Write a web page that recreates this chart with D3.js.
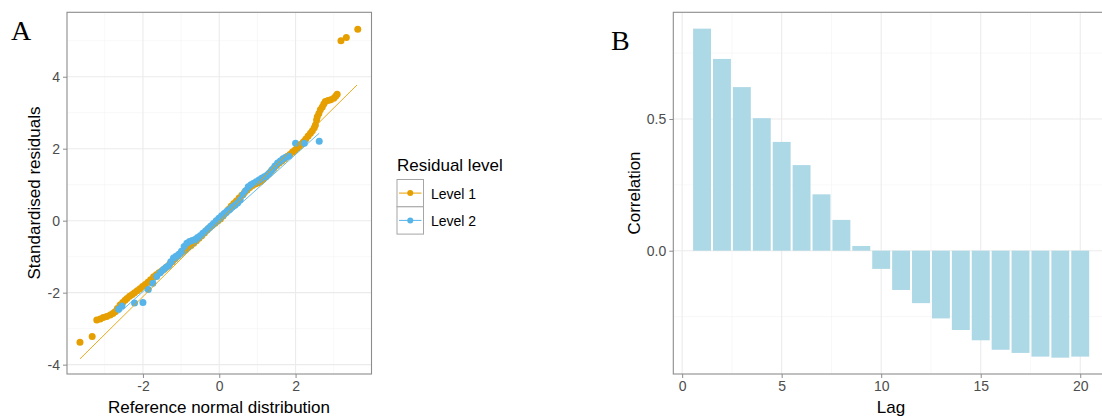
<!DOCTYPE html>
<html>
<head>
<meta charset="utf-8">
<script src="https://cdn.jsdelivr.net/npm/d3@7"></script>
<style>
  body { margin: 0; background: #fff; }
  svg { display: block; font-family: "Liberation Sans", Arial, sans-serif; }
</style>
</head>
<body>
<div id="chart"></div>
<script>
// --- panel A: QQ plot of standardised residuals ---
const level1X = [-3.65,-3.33,-3.21,-3.12,-3.04,-2.95,-2.86,-2.79,-2.73,-2.67,-2.60,-2.53,-2.47,-2.42,-2.35,-2.28,-2.22,-2.15,-2.08,-2.01,
  -1.94,-1.87,-1.80,-1.72,-1.65,-1.58,-1.51,-1.44,-1.37,-1.30,-1.23,-1.16,-1.09,-1.02,-0.95,-0.88,-0.81,-0.74,-0.67,-0.60,
  -0.53,-0.46,-0.39,-0.32,-0.25,-0.18,-0.11,-0.04,0.03,0.10,0.17,0.24,0.31,0.38,0.45,0.52,0.59,0.66,0.73,0.80,
  0.87,0.94,1.01,1.08,1.15,1.22,1.29,1.36,1.43,1.50,1.57,1.64,1.71,1.78,1.85,1.92,1.98,2.04,2.10,2.16,
  2.21,2.27,2.33,2.39,2.44,2.49,2.52,2.55,2.57,2.61,2.65,2.70,2.74,2.78,2.85,2.92,3.00,3.05,3.09,3.19,3.33,3.63];
const level1Y = [-3.38,-3.22,-2.76,-2.73,-2.69,-2.66,-2.62,-2.58,-2.53,-2.44,-2.34,-2.27,-2.21,-2.16,-2.10,-2.05,-2.00,-1.95,-1.89,-1.83,
  -1.77,-1.71,-1.64,-1.56,-1.50,-1.45,-1.40,-1.34,-1.28,-1.21,-1.14,-1.06,-0.98,-0.91,-0.85,-0.80,-0.74,-0.69,-0.63,-0.56,
  -0.49,-0.42,-0.34,-0.26,-0.19,-0.13,-0.07,-0.01,0.05,0.13,0.22,0.31,0.40,0.48,0.55,0.63,0.71,0.78,0.85,0.92,
  0.98,1.02,1.05,1.09,1.15,1.22,1.30,1.38,1.46,1.53,1.60,1.66,1.72,1.78,1.84,1.91,1.96,2.01,2.07,2.13,
  2.19,2.27,2.35,2.43,2.50,2.58,2.66,2.80,2.89,2.98,3.08,3.16,3.24,3.31,3.34,3.36,3.40,3.46,3.51,5.00,5.09,5.32];

const level2X = [-2.64,-2.55,-2.22,-2.00,-1.86,-1.74,-1.64,-1.55,-1.47,-1.40,-1.33,-1.27,-1.20,-1.13,-1.06,-0.99,-0.92,-0.85,-0.78,-0.71,
  -0.64,-0.57,-0.50,-0.43,-0.36,-0.29,-0.22,-0.15,-0.08,-0.01,0.06,0.13,0.20,0.27,0.34,0.41,0.48,0.55,0.62,0.69,
  0.76,0.83,0.90,0.97,1.04,1.11,1.18,1.25,1.32,1.39,1.46,1.53,1.60,1.67,1.74,1.82,2.00,2.23,2.62];
const level2Y = [-2.46,-2.37,-2.29,-2.27,-1.91,-1.74,-1.55,-1.45,-1.36,-1.30,-1.25,-1.14,-1.04,-0.99,-0.93,-0.85,-0.72,-0.63,-0.58,-0.55,
  -0.52,-0.47,-0.42,-0.35,-0.29,-0.22,-0.15,-0.08,0.00,0.07,0.14,0.20,0.26,0.31,0.38,0.43,0.49,0.58,0.72,0.83,
  0.94,1.00,1.04,1.08,1.13,1.18,1.22,1.26,1.33,1.42,1.52,1.60,1.66,1.72,1.76,1.80,2.15,2.15,2.21];

// qq reference lines (end points)
const line1X = [-3.65, 3.61], line1Y = [-3.84, 3.77];
const line2X = [-2.64, 2.62], line2Y = [-2.58, 2.43];

const levelNames = ['Level 1', 'Level 2'];
const levelColors = ['#E69F00', '#56B4E9'];

// --- panel B: autocorrelation ---
const lags = d3.range(1, 21);
const correlation = [0.843, 0.728, 0.621, 0.503, 0.413, 0.325, 0.214, 0.117, 0.018, -0.069,
  -0.149, -0.199, -0.257, -0.301, -0.340, -0.376, -0.388, -0.402, -0.406, -0.402];

const W = 1102, H = 419;
const svg = d3.select('#chart').append('svg').attr('width', W).attr('height', H);

const gridMajor = '#ebebeb', gridMinor = '#f4f4f4', border = '#8c8c8c', tickCol = '#4d4d4d';

function panel(x, y, xMajor, xMinor, yMajor, yMinor, xFmt, yFmt) {
    const g = svg.append('g');
    const [x0, x1] = x.range(), [y0, y1] = y.range();
    g.selectAll('.vminor').data(xMinor).join('line')
        .attr('x1', d => x(d)).attr('x2', d => x(d)).attr('y1', y0).attr('y2', y1)
        .attr('stroke', gridMinor).attr('stroke-width', 0.6);
    g.selectAll('.hminor').data(yMinor).join('line')
        .attr('y1', d => y(d)).attr('y2', d => y(d)).attr('x1', x0).attr('x2', x1)
        .attr('stroke', gridMinor).attr('stroke-width', 0.6);
    g.selectAll('.vmajor').data(xMajor).join('line')
        .attr('x1', d => x(d)).attr('x2', d => x(d)).attr('y1', y0).attr('y2', y1)
        .attr('stroke', gridMajor).attr('stroke-width', 1.1);
    g.selectAll('.hmajor').data(yMajor).join('line')
        .attr('y1', d => y(d)).attr('y2', d => y(d)).attr('x1', x0).attr('x2', x1)
        .attr('stroke', gridMajor).attr('stroke-width', 1.1);

    const xa = svg.append('g').attr('transform', `translate(0,${y0})`)
        .call(d3.axisBottom(x).tickValues(xMajor).tickSize(4).tickPadding(3).tickFormat(xFmt));
    const ya = svg.append('g').attr('transform', `translate(${x0},0)`)
        .call(d3.axisLeft(y).tickValues(yMajor).tickSize(4).tickPadding(3).tickFormat(yFmt));
    [xa, ya].forEach(a => {
        a.select('.domain').remove();
        a.selectAll('line').attr('stroke', border);
        a.selectAll('text').attr('fill', tickCol).attr('font-size', 14)
            .attr('font-family', '"Liberation Sans", Arial, sans-serif');
    });
    return g;
}

function frame(x, y) {
    const [x0, x1] = x.range(), [y0, y1] = y.range();
    svg.append('rect').attr('x', x0).attr('y', y1).attr('width', x1 - x0).attr('height', y0 - y1)
        .attr('fill', 'none').attr('stroke', border).attr('stroke-width', 1.1);
}

// plain hyphen for negatives, like the figure
const minusFmt = d => (d < 0 ? '-' + Math.abs(d) : String(d));

// ---------- Panel A ----------
const xA = d3.scaleLinear().domain([-3.99, 3.99]).range([67, 371.5]);
const yA = d3.scaleLinear().domain([-4.26, 5.79]).range([374, 12.3]);
const pA = panel(xA, yA, [-2, 0, 2], [-3, -1, 1, 3], [-4, -2, 0, 2, 4], [-3, -1, 1, 3, 5], minusFmt, minusFmt);

const pts = [
    level1X.map((v, i) => ({ x: v, y: level1Y[i], k: 0 })),
    level2X.map((v, i) => ({ x: v, y: level2Y[i], k: 1 }))
];
pts.forEach(set => {
    pA.append('g').selectAll('circle').data(set).join('circle')
        .attr('cx', d => xA(d.x)).attr('cy', d => yA(d.y)).attr('r', 3.5)
        .attr('fill', d => levelColors[d.k]);
});
const lineGen = d3.line().x(d => xA(d[0])).y(d => yA(d[1]));
pA.append('path').datum(line1X.map((v, i) => [v, line1Y[i]])).attr('d', lineGen)
    .attr('stroke', levelColors[0]).attr('stroke-width', 0.9).attr('fill', 'none');
pA.append('path').datum(line2X.map((v, i) => [v, line2Y[i]])).attr('d', lineGen)
    .attr('stroke', levelColors[1]).attr('stroke-width', 0.9).attr('fill', 'none');
frame(xA, yA);

svg.append('text').attr('x', 219).attr('y', 413).attr('text-anchor', 'middle')
    .attr('font-size', 17).attr('fill', '#000').text('Reference normal distribution');
svg.append('text').attr('transform', 'translate(40,193) rotate(-90)').attr('text-anchor', 'middle')
    .attr('font-size', 17).attr('fill', '#000').text('Standardised residuals');
svg.append('text').attr('x', 11).attr('y', 40).attr('font-family', '"Liberation Serif", "Times New Roman", serif')
    .attr('font-size', 28).text('A');

// legend
const lg = svg.append('g').attr('transform', 'translate(397,0)');
lg.append('text').attr('x', 0).attr('y', 170.5).attr('font-size', 17).text('Residual level');
levelNames.forEach((name, i) => {
    const top = 179.5 + i * 27.3;
    lg.append('rect').attr('x', 0).attr('y', top).attr('width', 26.5).attr('height', 27.3)
        .attr('fill', '#fff').attr('stroke', '#a6a6a6').attr('stroke-width', 1);
    lg.append('line').attr('x1', 2).attr('x2', 24.5).attr('y1', top + 13.6).attr('y2', top + 13.6)
        .attr('stroke', levelColors[i]).attr('stroke-width', 1);
    lg.append('circle').attr('cx', 13.25).attr('cy', top + 13.6).attr('r', 3)
        .attr('fill', levelColors[i]);
    lg.append('text').attr('x', 34).attr('y', top + 19.5).attr('font-size', 14).text(name);
});

// ---------- Panel B ----------
const xB = d3.scaleLinear().domain([-0.445, 21.445]).range([673.3, 1109]);
const yB = d3.scaleLinear().domain([-0.468, 0.905]).range([374, 12.3]);
const pB = panel(xB, yB, [0, 5, 10, 15, 20], [2.5, 7.5, 12.5, 17.5], [0, 0.5], [-0.25, 0.25, 0.75],
    d3.format('d'), d3.format('.1f'));
pB.append('g').selectAll('rect').data(lags).join('rect')
    .attr('x', d => xB(d - 0.45)).attr('width', xB(0.9) - xB(0))
    .attr('y', (d, i) => yB(Math.max(0, correlation[i])))
    .attr('height', (d, i) => Math.abs(yB(correlation[i]) - yB(0)))
    .attr('fill', '#ADD8E6');
frame(xB, yB);

svg.append('text').attr('x', 891).attr('y', 413).attr('text-anchor', 'middle')
    .attr('font-size', 17).text('Lag');
svg.append('text').attr('transform', 'translate(640,193) rotate(-90)').attr('text-anchor', 'middle')
    .attr('font-size', 17).text('Correlation');
svg.append('text').attr('x', 611).attr('y', 50).attr('font-family', '"Liberation Serif", "Times New Roman", serif')
    .attr('font-size', 28).text('B');
</script>
</body>
</html>
